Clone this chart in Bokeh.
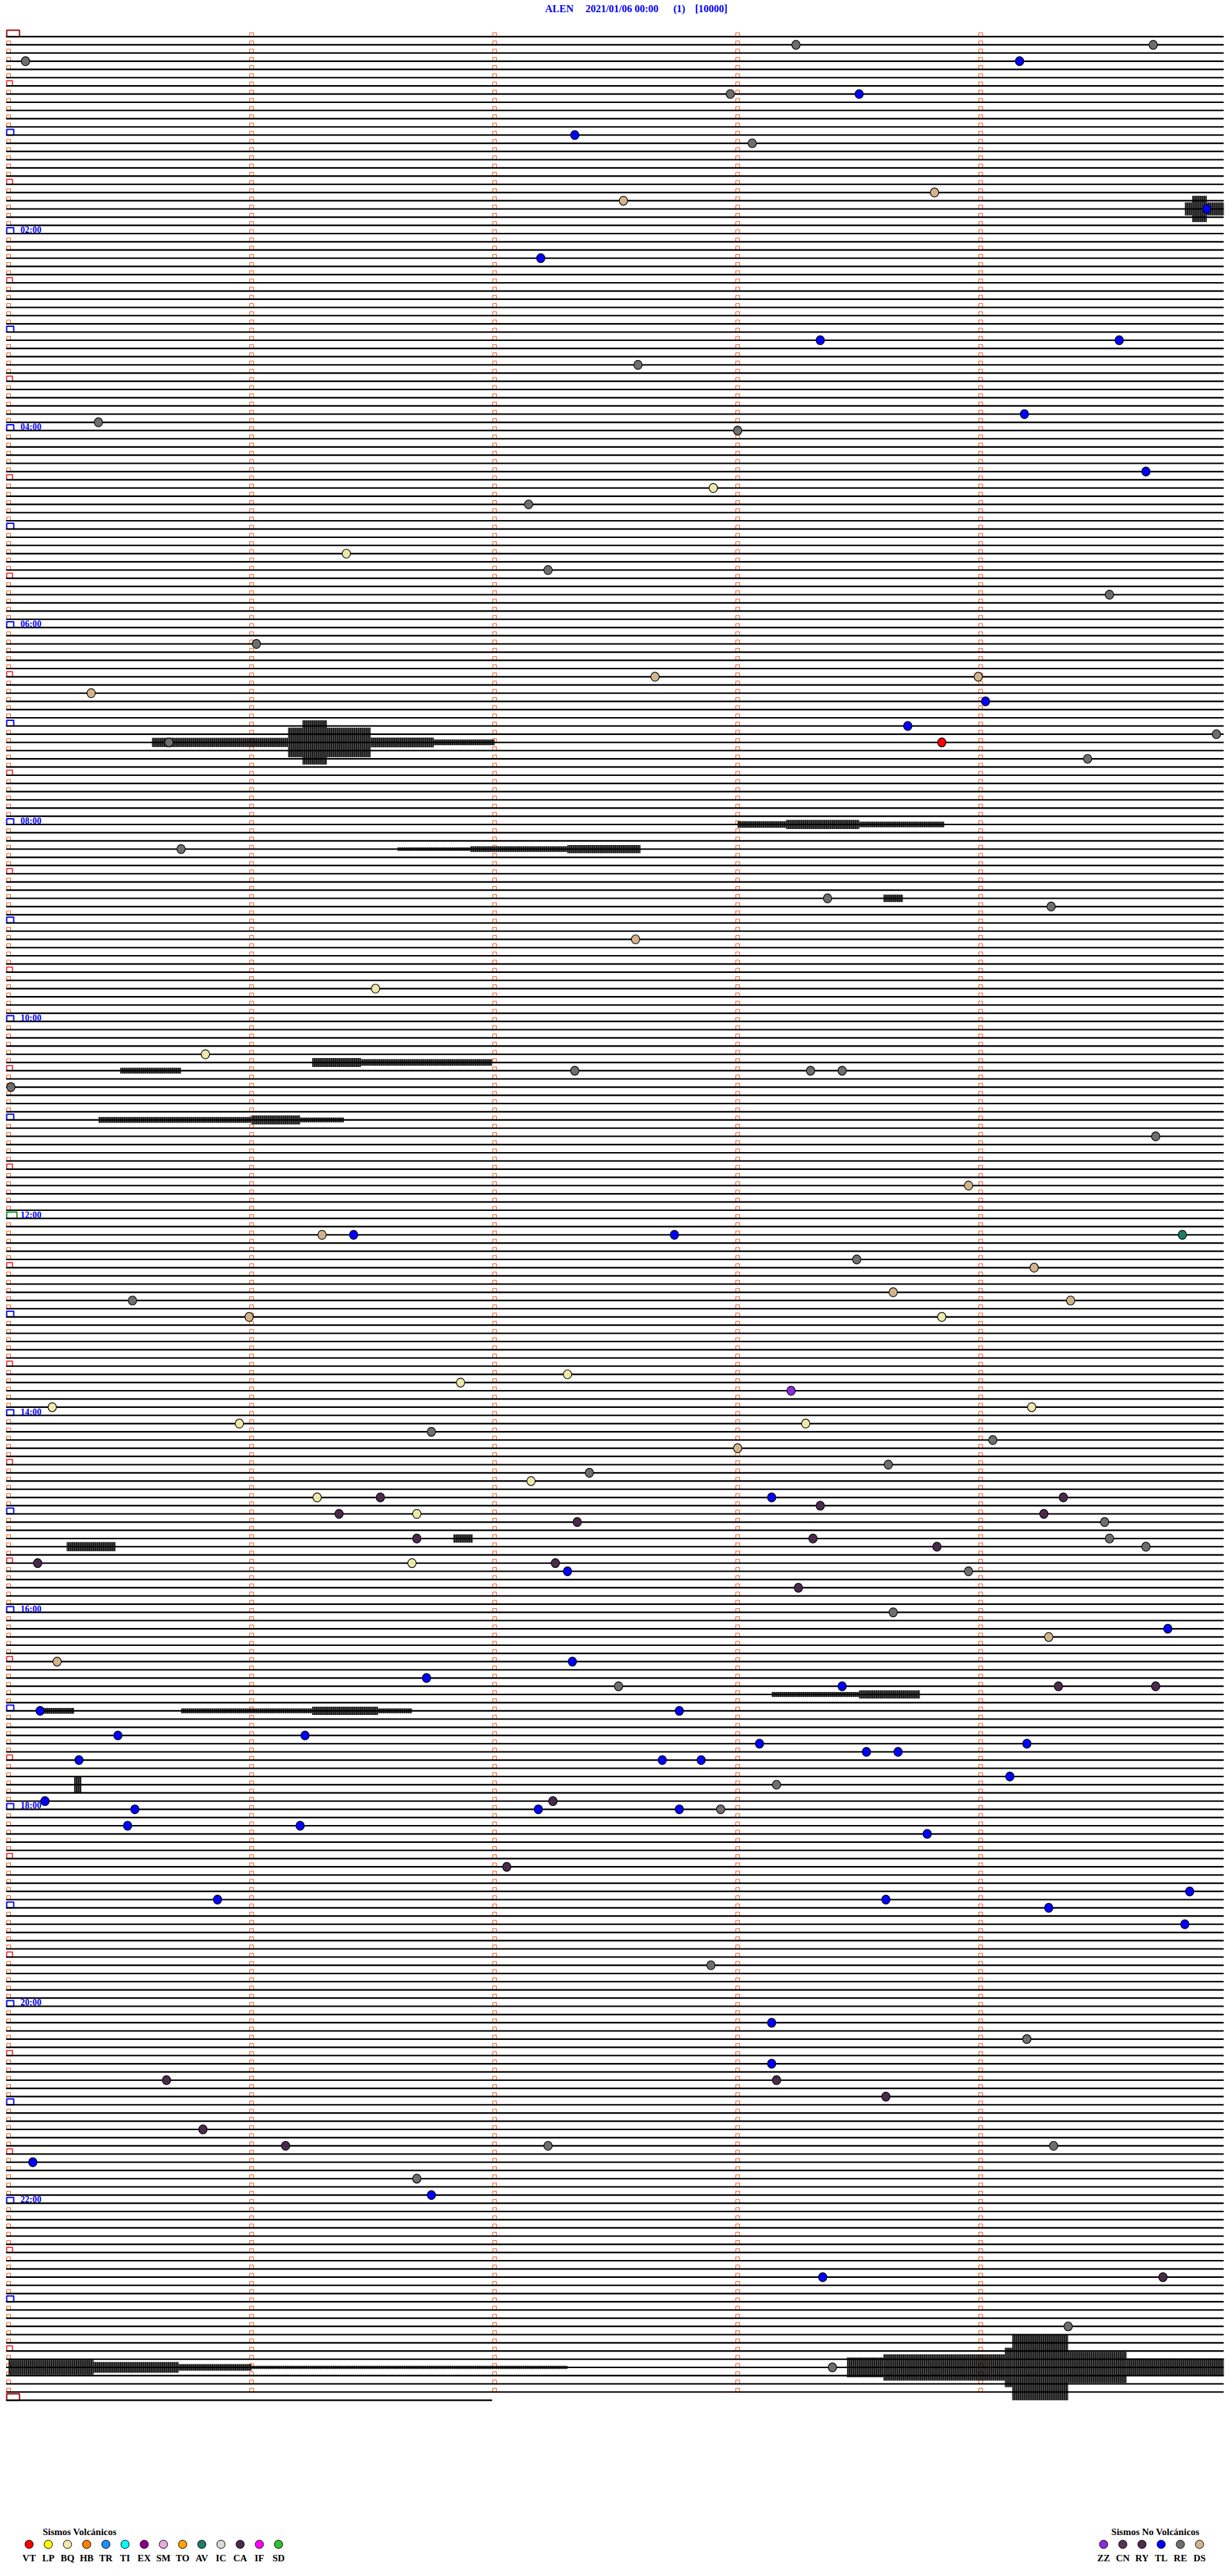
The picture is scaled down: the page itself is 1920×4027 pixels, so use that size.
import math
from bokeh.plotting import figure
from bokeh.models import Range1d, ColumnDataSource
from bokeh.embed import file_html
from bokeh.resources import INLINE
from bokeh.core.properties import value

# ---------------- data ----------------
station = "ALEN"
date_label = "2021/01/06 00:00"
channel_label = "(1)"
scale_label = "[10000]"
minutes_per_line = 5
n_lines = 289                 # 00:00 .. 24:00
last_line_minutes = 1.99      # the last (24:00) line is only partly drawn
label_hours = [2, 4, 6, 8, 10, 12, 14, 16, 18, 20, 22]

# event times, minutes after 00:00, by event type
ev_RE = [8.24, 9.71, 15.07, 37.97, 68.06, 202.59, 235.37, 243.0, 287.14, 327.22, 344.53,
         371.02, 429.97, 430.66, 444.44, 495.71, 528.37, 534.29, 632.33, 633.3, 633.43,
         640.01, 674.72, 748.49, 770.51, 851.74, 859.05, 873.62, 877.39, 909.51, 919.53,
         924.68, 938.95, 963.64, 1007.51, 1068.16, 1082.93, 1177.89, 1224.19, 1287.22,
         1289.3, 1306.68, 1399.36, 1423.39]
ev_TL = [19.16, 38.5, 62.33, 109.93, 137.19, 188.34, 189.57, 234.18, 269.68, 409.02, 423.7,
         731.42, 732.74, 893.14, 937.3, 974.77, 992.32, 1001.72, 1008.43, 1020.13, 1022.76,
         1035.45, 1036.22, 1043.09, 1044.19, 1048.53, 1048.66, 1050.29, 1052.69, 1052.85,
         1064.12, 1075.15, 1080.52, 1082.18, 1082.76, 1090.49, 1091.2, 1098.78, 1134.86,
         1135.86, 1138.61, 1144.28, 1154.84, 1213.14, 1238.14, 1295.1, 1316.74, 1368.35]
ev_DS = [98.81, 102.53, 392.66, 393.99, 400.34, 552.58, 703.95, 731.29, 754.22, 768.64,
         774.37, 780.99, 863.0, 979.28, 990.2]
ev_BQ = [277.9, 316.39, 581.51, 620.81, 783.84, 817.3, 821.86, 835.18, 839.21, 845.95,
         848.28, 882.15, 891.27, 901.68, 931.66]
ev_CA = [891.53, 894.34, 898.34, 901.36, 904.26, 907.34, 916.68, 918.31, 923.82, 930.12,
         932.25, 948.25, 1009.32, 1009.72, 1077.24, 1117.05, 1245.65, 1248.16, 1258.61,
         1275.8, 1286.14, 1369.75]
ev_AV = [734.83]
ev_VT = [433.84]
ev_ZZ = [828.22]

# signal bursts: trace line, start minute, end minute, half amplitude (in trace spacings)
burst_line = [21, 21, 21,
              86, 86, 86, 86, 86, 86,
              96, 96, 96,
              99, 99, 99,
              105,
              125, 125, 126,
              132, 132, 132,
              183, 184,
              202, 202,
              204, 204, 204, 204,
              213,
              284, 284, 284, 284, 284, 284, 284, 284, 284, 284]
burst_start = [4.84, 4.87, 4.93,
               0.59, 1.15, 1.21, 1.31, 1.49, 1.75,
               3.0, 3.2, 3.5,
               1.6, 1.9, 2.3,
               3.6,
               1.25, 1.45, 0.46,
               0.37, 1.0, 1.2,
               1.83, 0.24,
               3.14, 3.5,
               0.13, 0.71, 1.25, 1.52,
               0.27,
               0.0, 0.35, 0.7, 1.0, 3.45, 3.6, 4.1, 4.13, 4.36, 4.6]
burst_end = [4.87, 4.93, 5.0,
             1.15, 1.21, 1.31, 1.49, 1.75, 2.0,
             3.2, 3.5, 3.85,
             1.9, 2.3, 2.6,
             3.68,
             1.45, 1.99, 0.71,
             1.0, 1.2, 1.38,
             1.91, 0.44,
             3.5, 3.75,
             0.27, 1.25, 1.52, 1.66,
             0.30,
             0.35, 0.7, 1.0, 2.3, 3.6, 4.1, 4.13, 4.36, 4.6, 5.0]
burst_amp = [0.8, 1.6, 0.8,
             0.55, 1.8, 2.7, 1.8, 0.6, 0.35,
             0.4, 0.55, 0.35,
             0.2, 0.35, 0.5,
             0.45,
             0.55, 0.4, 0.35,
             0.35, 0.55, 0.3,
             0.5, 0.55,
             0.3, 0.5,
             0.35, 0.3, 0.5, 0.3,
             1.0,
             0.9, 0.65, 0.4, 0.18, 1.2, 1.6, 2.4, 4.0, 1.9, 1.1]

volc_codes = ["VT", "LP", "BQ", "HB", "TR", "TI", "EX", "SM", "TO", "AV", "IC", "CA", "IF", "SD"]
nonvolc_codes = ["ZZ", "CN", "RY", "TL", "RE", "DS"]

# ---------------- styles ----------------
COLORS = {"VT": "#FF0000", "LP": "#FFFF00", "BQ": "#EEE8AA", "HB": "#FF7F00", "TR": "#1E8FFF",
          "TI": "#00FFFF", "EX": "#8B008B", "SM": "#E8A8E0", "TO": "#FFA500", "AV": "#1E7B68",
          "IC": "#D8D8D8", "CA": "#4A2A4A", "IF": "#FF00FF", "SD": "#30C030",
          "ZZ": "#8A2BE2", "CN": "#553355", "RY": "#4E2A4E", "TL": "#0000FF", "RE": "#6E6E6E",
          "DS": "#D2B48C"}
FONT = value("Liberation Serif")
BLUE = "#0000FF"

# pixel geometry of the helicorder (page pixels)
X0, PX_MIN = 12.8, 380.0      # minute 0 position and pixels per minute
Y0, PX_LINE = 56.7, 12.83     # first trace position and pixels per trace
PAGE = 0
W, H = 1916, 4022


def fx(px):
    return (px - X0) / PX_MIN


def fy(py):
    return (py - Y0) / PX_LINE


def dx(px):
    return px / PX_MIN


def dy(py):
    return py / PX_LINE


p = figure(width=W, height=H,
           x_range=Range1d(fx(PAGE), fx(PAGE + W)),
           y_range=Range1d(fy(PAGE + H), fy(PAGE)),
           output_backend="svg", toolbar_location=None, min_border=0,
           x_axis_location=None, y_axis_location=None)
p.grid.visible = False
p.outline_line_color = None
p.background_fill_color = "white"
p.border_fill_color = "white"

# ---------------- time markers ----------------
groups = {}


def add_mark(key, left, right, top, bottom):
    g = groups.setdefault(key, {"left": [], "right": [], "top": [], "bottom": []})
    g["left"].append(left)
    g["right"].append(right)
    g["top"].append(top)
    g["bottom"].append(bottom)


lx = fx(10)
for i in range(n_lines):
    if i % 12 == 0:
        if i == 0 or i == n_lines - 1:
            add_mark("day", lx, lx + dx(20), i - dy(10), i)
        elif i == 144:
            add_mark("noon", lx, lx + dx(16), i - dy(10), i)
        else:
            add_mark("hour", lx, lx + dx(11), i - dy(9), i)
    elif i % 6 == 0:
        add_mark("half", lx, lx + dx(9), i - dy(8), i)
    else:
        add_mark("tick", lx, lx + dx(6), i - dy(6), i)
    if i < n_lines - 1:
        for k in range(1, minutes_per_line):
            add_mark("tick", k - dx(3), k + dx(3), i - dy(6), i)

mark_style = {"day": ("#A00000", 2), "noon": ("#108A10", 2), "hour": (BLUE, 2),
              "half": ("#FF0000", 1.5), "tick": ("#FF4A00", 1)}
for key, g in groups.items():
    col, lw = mark_style[key]
    p.quad(left=g["left"], right=g["right"], top=g["top"], bottom=g["bottom"],
           fill_alpha=0, line_color=col, line_width=lw)

# ---------------- traces ----------------
xs, ys = [], []
for i in range(n_lines):
    end = minutes_per_line if i < n_lines - 1 else last_line_minutes
    xs.append([fx(9), end])
    ys.append([i, i])
p.multi_line(xs=xs, ys=ys, line_color="black", line_width=2.4)

bsrc = ColumnDataSource(dict(
    left=burst_start, right=burst_end,
    top=[l - a for l, a in zip(burst_line, burst_amp)],
    bottom=[l + a for l, a in zip(burst_line, burst_amp)]))
p.quad(left="left", right="right", top="top", bottom="bottom", source=bsrc,
       fill_color="black", fill_alpha=0.7, line_color=None,
       hatch_pattern="vertical_line", hatch_color="black", hatch_scale=3,
       hatch_weight=1.2, hatch_alpha=1.0)

# ---------------- events ----------------
events = {"RE": ev_RE, "TL": ev_TL, "DS": ev_DS, "BQ": ev_BQ, "CA": ev_CA,
          "AV": ev_AV, "VT": ev_VT, "ZZ": ev_ZZ}
for code, times in events.items():
    lines = [math.floor(t / minutes_per_line) for t in times]
    mins = [t - minutes_per_line * l for t, l in zip(times, lines)]
    p.ellipse(x=mins, y=lines, width=dx(13), height=dy(14),
              fill_color=COLORS[code], line_color="black", line_width=1.2)

# ---------------- hour labels ----------------
hl = [h * 12 for h in label_hours]
p.text(x=[fx(31.5)] * len(hl), y=[l - dy(5.5) for l in hl],
       text=["%02d:00" % h for h in label_hours],
       text_font=FONT, text_font_style="bold", text_font_size="14px",
       text_color=BLUE, text_align="left", text_baseline="middle")

# ---------------- title ----------------
p.text(x=[fx(874), fx(972), fx(1061.5), fx(1111.5)], y=[fy(13)] * 4,
       text=[station, date_label, channel_label, scale_label],
       text_font=FONT, text_font_style="bold", text_font_size="16px",
       text_color=BLUE, text_align="center", text_baseline="middle")

# ---------------- legends ----------------
vx = [fx(45 + 30 * k) for k in range(len(volc_codes))]
nx = [fx(1725 + 30 * k) for k in range(len(nonvolc_codes))]
p.scatter(x=vx, y=[fy(3977)] * len(vx), size=13, marker="circle",
          fill_color=[COLORS[c] for c in volc_codes], line_color="black", line_width=1)
p.scatter(x=nx, y=[fy(3977)] * len(nx), size=13, marker="circle",
          fill_color=[COLORS[c] for c in nonvolc_codes], line_color="black", line_width=1)
p.text(x=vx + nx, y=[fy(3998)] * (len(vx) + len(nx)), text=volc_codes + nonvolc_codes,
       text_font=FONT, text_font_style="bold", text_font_size="15px",
       text_color="black", text_align="center", text_baseline="middle")
p.text(x=[fx(124), fx(1806)], y=[fy(3957)] * 2,
       text=["Sismos Volcánicos", "Sismos No Volcánicos"],
       text_font=FONT, text_font_style="bold", text_font_size="15px",
       text_color="black", text_align="center", text_baseline="middle")

open("out.html", "w").write(file_html(p, INLINE))
